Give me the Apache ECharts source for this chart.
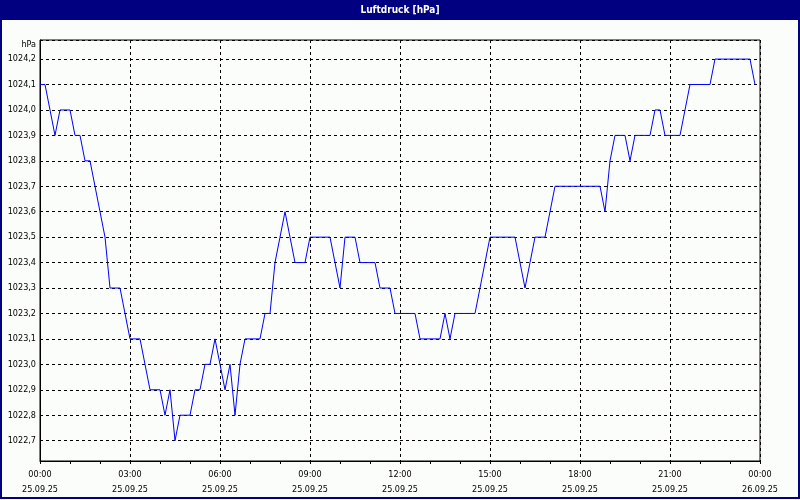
<!DOCTYPE html>
<html>
<head>
<meta charset="utf-8">
<script src="https://cdn.jsdelivr.net/npm/echarts@6/dist/echarts.min.js"></script>
<style>
  html, body { margin: 0; padding: 0; background: #fbfdfb; }
  #chart { width: 800px; height: 500px; }
</style>
</head>
<body>
<div id="chart"></div>
<script>
// ---- data ----
const chartTitle = 'Luftdruck [hPa]';
const unitLabel = 'hPa';
const times = [
  '00:00','00:10','00:20','00:30','00:40','00:50',
  '01:00','01:10','01:20','01:30','01:40','01:50',
  '02:00','02:10','02:20','02:30','02:40','02:50',
  '03:00','03:10','03:20','03:30','03:40','03:50',
  '04:00','04:10','04:20','04:30','04:40','04:50',
  '05:00','05:10','05:20','05:30','05:40','05:50',
  '06:00','06:10','06:20','06:30','06:40','06:50',
  '07:00','07:10','07:20','07:30','07:40','07:50',
  '08:00','08:10','08:20','08:30','08:40','08:50',
  '09:00','09:10','09:20','09:30','09:40','09:50',
  '10:00','10:10','10:20','10:30','10:40','10:50',
  '11:00','11:10','11:20','11:30','11:40','11:50',
  '12:00','12:10','12:20','12:30','12:40','12:50',
  '13:00','13:10','13:20','13:30','13:40','13:50',
  '14:00','14:10','14:20','14:30','14:40','14:50',
  '15:00','15:10','15:20','15:30','15:40','15:50',
  '16:00','16:10','16:20','16:30','16:40','16:50',
  '17:00','17:10','17:20','17:30','17:40','17:50',
  '18:00','18:10','18:20','18:30','18:40','18:50',
  '19:00','19:10','19:20','19:30','19:40','19:50',
  '20:00','20:10','20:20','20:30','20:40','20:50',
  '21:00','21:10','21:20','21:30','21:40','21:50',
  '22:00','22:10','22:20','22:30','22:40','22:50',
  '23:00','23:10','23:20','23:30','23:40','23:50'
];
const pressure = [
  1024.1,1024.1,1024.0,1023.9,1024.0,1024.0,
  1024.0,1023.9,1023.9,1023.8,1023.8,1023.7,
  1023.6,1023.5,1023.3,1023.3,1023.3,1023.2,
  1023.1,1023.1,1023.1,1023.0,1022.9,1022.9,
  1022.9,1022.8,1022.9,1022.7,1022.8,1022.8,
  1022.8,1022.9,1022.9,1023.0,1023.0,1023.1,
  1023.0,1022.9,1023.0,1022.8,1023.0,1023.1,
  1023.1,1023.1,1023.1,1023.2,1023.2,1023.4,
  1023.5,1023.6,1023.5,1023.4,1023.4,1023.4,
  1023.5,1023.5,1023.5,1023.5,1023.5,1023.4,
  1023.3,1023.5,1023.5,1023.5,1023.4,1023.4,
  1023.4,1023.4,1023.3,1023.3,1023.3,1023.2,
  1023.2,1023.2,1023.2,1023.2,1023.1,1023.1,
  1023.1,1023.1,1023.1,1023.2,1023.1,1023.2,
  1023.2,1023.2,1023.2,1023.2,1023.3,1023.4,
  1023.5,1023.5,1023.5,1023.5,1023.5,1023.5,
  1023.4,1023.3,1023.4,1023.5,1023.5,1023.5,
  1023.6,1023.7,1023.7,1023.7,1023.7,1023.7,
  1023.7,1023.7,1023.7,1023.7,1023.7,1023.6,
  1023.8,1023.9,1023.9,1023.9,1023.8,1023.9,
  1023.9,1023.9,1023.9,1024.0,1024.0,1023.9,
  1023.9,1023.9,1023.9,1024.0,1024.1,1024.1,
  1024.1,1024.1,1024.1,1024.2,1024.2,1024.2,
  1024.2,1024.2,1024.2,1024.2,1024.2,1024.1
];
const xTickLabels = [
  '00:00\n25.09.25','03:00\n25.09.25','06:00\n25.09.25','09:00\n25.09.25',
  '12:00\n25.09.25','15:00\n25.09.25','18:00\n25.09.25','21:00\n25.09.25',
  '00:00\n26.09.25'
];

// ---- chart ----
const FONT = '"DejaVu Sans Condensed", "DejaVu Sans", sans-serif';
function toHours(t) { const p = t.split(':'); return Number(p[0]) + Number(p[1]) / 60; }
const seriesData = times.map((t, i) => [toHours(t), pressure[i]]);

const chart = echarts.init(document.getElementById('chart'), null, { renderer: 'canvas' });
chart.setOption({
  animation: false,
  backgroundColor: '#fbfdfb',
  title: {
    text: chartTitle,
    left: 'center',
    top: 4,
    padding: 0,
    textStyle: { color: '#ffffff', fontWeight: 'bold', fontSize: 10, fontFamily: FONT, lineHeight: 12 }
  },
  graphic: {
    elements: [
      { type: 'rect', z: 0, shape: { x: 0, y: 0, width: 800, height: 20 }, style: { fill: '#000080' } },
      { type: 'rect', z: 0, shape: { x: 1, y: 1, width: 798, height: 497 }, style: { fill: null, stroke: '#000080', lineWidth: 2 } }
    ]
  },
  grid: {
    left: 40, right: 40, top: 40, bottom: 39,
    show: true, borderColor: '#000', borderWidth: 1, backgroundColor: 'transparent'
  },
  xAxis: {
    type: 'value',
    min: 0, max: 24, interval: 3,
    axisLine: { show: true, lineStyle: { color: '#000', width: 1 } },
    axisTick: { show: true, length: 3, lineStyle: { color: '#000' } },
    minorTick: { show: true, splitNumber: 3, length: 3, lineStyle: { color: '#000' } },
    splitLine: { show: true, lineStyle: { color: '#000', type: [3, 3], width: 1 } },
    axisLabel: {
      color: '#000', fontSize: 9, fontFamily: FONT, lineHeight: 15, margin: 6,
      showMinLabel: true, showMaxLabel: true,
      formatter: v => xTickLabels[Math.round(v / 3)]
    }
  },
  yAxis: {
    type: 'value',
    min: 1022.62, max: 1024.275, splitNumber: 16,
    name: unitLabel,
    nameLocation: 'end',
    nameGap: -5,
    nameTextStyle: { color: '#000', fontSize: 9, fontFamily: FONT, align: 'right', verticalAlign: 'middle', padding: [0, 4, 0, 0] },
    axisLine: { show: true, lineStyle: { color: '#000', width: 1 } },
    axisTick: { show: false },
    splitLine: { show: true, lineStyle: { color: '#000', type: [3, 3], width: 1 } },
    axisLabel: {
      color: '#000', fontSize: 9, fontFamily: FONT, margin: 4,
      showMinLabel: false, showMaxLabel: false,
      formatter: v => v.toFixed(1).replace('.', ',')
    }
  },
  series: [{
    type: 'line',
    data: seriesData,
    showSymbol: false,
    symbol: 'none',
    lineStyle: { color: '#0000ff', width: 1 },
    emphasis: { disabled: true }
  }]
});
</script>
</body>
</html>
